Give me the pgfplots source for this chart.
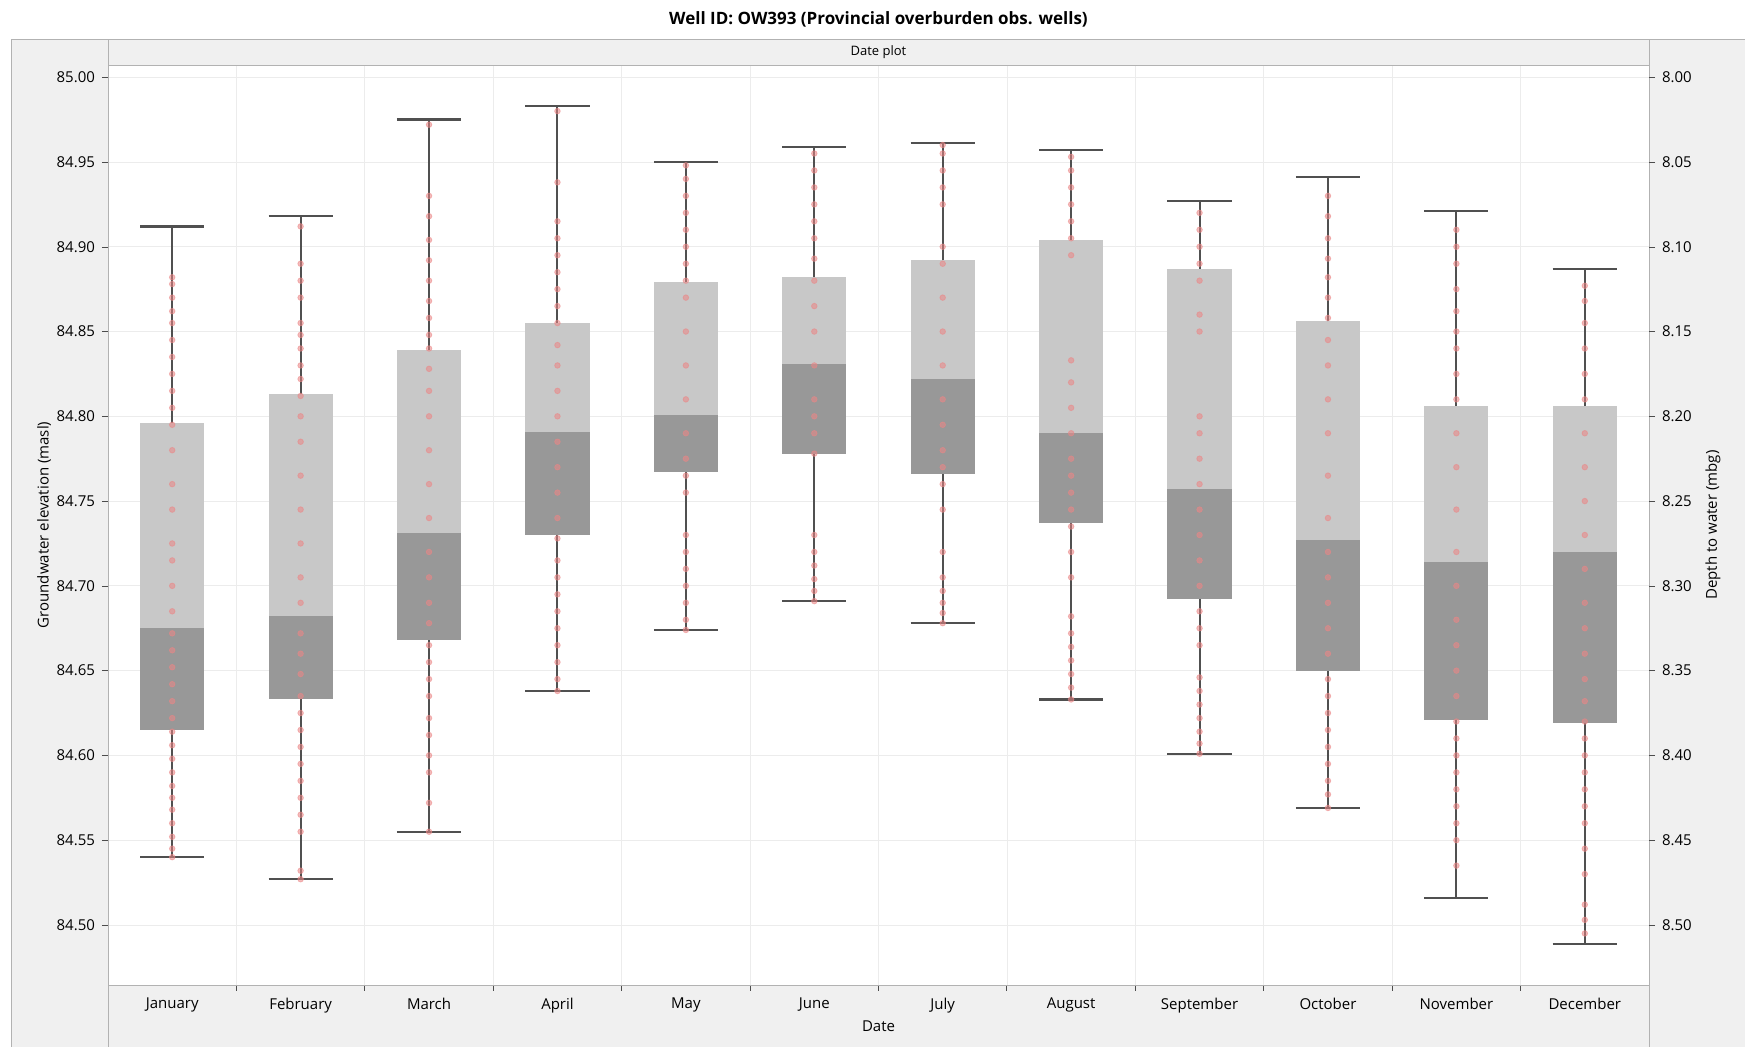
\documentclass[border=0pt]{standalone}
\usepackage{pgfplots}
\pgfplotsset{compat=1.18}
\usepackage{fontspec}
\setmainfont{Open Sans}
\definecolor{panel}{HTML}{F0F0F0}
\definecolor{boxlight}{HTML}{C8C8C8}
\definecolor{boxdark}{HTML}{989898}
\definecolor{whk}{HTML}{505050}
\definecolor{dot}{HTML}{EC8686}
\newcommand{\bx}[8]{%
 \addplot[fill=boxdark,draw=none] coordinates {(#1,#5)(#3,#5)(#3,#6)(#1,#6)} -- cycle;
 \addplot[fill=boxlight,draw=none] coordinates {(#1,#6)(#3,#6)(#3,#7)(#1,#7)} -- cycle;
 \addplot[whk,line width=1pt] coordinates {(#2,#4)(#2,#5)};
 \addplot[whk,line width=1pt] coordinates {(#2,#7)(#2,#8)};
 \addplot[whk,line width=1.1pt] coordinates {(#1,#4)(#3,#4)};
 \addplot[whk,line width=1.1pt] coordinates {(#1,#8)(#3,#8)};
}
\begin{document}
\begin{tikzpicture}[font=\fontsize{7.5}{9}\selectfont]
\fill[panel] (-48.5pt,-31pt) rectangle (818.5pt,473pt);
\draw[gray!60,line width=0.4pt] (-48.5pt,-31pt) rectangle (818.5pt,473pt);
\draw[gray!60,line width=0.4pt] (0,-31pt) -- (0,473pt);
\draw[gray!60,line width=0.4pt] (770.5pt,-31pt) -- (770.5pt,473pt);
\fill[white] (0,0) rectangle (770.5pt,460pt);
\node[font=\fontsize{6.5}{8}\selectfont] at (385.25pt,466.5pt) {Date plot};
\node[font=\bfseries\fontsize{8.5}{10}\selectfont] at (385.25pt,483pt) {Well ID: OW393 (Provincial overburden obs. wells)};
\begin{axis}[at={(0,0)},anchor=south west,scale only axis,width=770.5pt,height=460pt,
 xmin=0.5,xmax=12.5,ymin=84.4646,ymax=85.0072,
 axis line style={gray!60,line width=0.4pt},
 xtick={1,...,12},
 xticklabels={January,February,March,April,May,June,July,August,September,October,November,December},
 major x tick style={draw=none},
 minor xtick={1.5,2.5,...,11.5},
 minor x tick style={black!70,line width=0.5pt},
 minor tick length=3pt,
 xminorgrids,minor grid style={gray!15},
 ytick={84.5,84.55,...,85.01},
 yticklabel style={/pgf/number format/.cd,fixed,fixed zerofill,precision=2},
 ymajorgrids,major grid style={gray!15},
 major tick length=3pt,
 tick style={black!70},
 tick align=outside,
 ytick pos=left,
 xtick pos=bottom,
 /pgf/number format/assume math mode=true,
 xlabel={Date},ylabel={Groundwater elevation (masl)},
 xlabel style={yshift=3pt},
 ylabel style={yshift=-4pt},
 clip=false]
\bx{0.75}{1}{1.25}{84.540}{84.615}{84.675}{84.796}{84.912}
\bx{1.75}{2}{2.25}{84.527}{84.633}{84.682}{84.813}{84.918}
\bx{2.75}{3}{3.25}{84.555}{84.668}{84.731}{84.839}{84.975}
\bx{3.75}{4}{4.25}{84.638}{84.730}{84.791}{84.855}{84.983}
\bx{4.75}{5}{5.25}{84.674}{84.767}{84.801}{84.879}{84.950}
\bx{5.75}{6}{6.25}{84.691}{84.778}{84.831}{84.882}{84.959}
\bx{6.75}{7}{7.25}{84.678}{84.766}{84.822}{84.892}{84.961}
\bx{7.75}{8}{8.25}{84.633}{84.737}{84.790}{84.904}{84.957}
\bx{8.75}{9}{9.25}{84.601}{84.692}{84.757}{84.887}{84.927}
\bx{9.75}{10}{10.25}{84.569}{84.650}{84.727}{84.856}{84.941}
\bx{10.75}{11}{11.25}{84.516}{84.621}{84.714}{84.806}{84.921}
\bx{11.75}{12}{12.25}{84.489}{84.619}{84.720}{84.806}{84.887}
\addplot[only marks,mark=*,color=dot,mark size=1.4pt,opacity=0.55,mark options={draw=dot,fill=dot,solid}] table {
x y
1 84.540
1 84.545
1 84.552
1 84.560
1 84.568
1 84.575
1 84.582
1 84.590
1 84.598
1 84.606
1 84.614
1 84.622
1 84.632
1 84.642
1 84.652
1 84.662
1 84.672
1 84.685
1 84.700
1 84.715
1 84.725
1 84.745
1 84.760
1 84.780
1 84.795
1 84.805
1 84.815
1 84.825
1 84.835
1 84.845
1 84.855
1 84.862
1 84.870
1 84.878
1 84.882
2 84.527
2 84.532
2 84.555
2 84.565
2 84.575
2 84.585
2 84.595
2 84.605
2 84.615
2 84.625
2 84.635
2 84.648
2 84.660
2 84.672
2 84.690
2 84.705
2 84.725
2 84.745
2 84.765
2 84.785
2 84.800
2 84.812
2 84.822
2 84.830
2 84.840
2 84.848
2 84.855
2 84.870
2 84.880
2 84.890
2 84.912
3 84.555
3 84.572
3 84.590
3 84.600
3 84.612
3 84.622
3 84.635
3 84.645
3 84.655
3 84.665
3 84.678
3 84.690
3 84.705
3 84.720
3 84.740
3 84.760
3 84.780
3 84.800
3 84.815
3 84.828
3 84.840
3 84.848
3 84.858
3 84.868
3 84.880
3 84.892
3 84.904
3 84.918
3 84.930
3 84.972
4 84.638
4 84.645
4 84.655
4 84.665
4 84.675
4 84.685
4 84.695
4 84.705
4 84.715
4 84.728
4 84.740
4 84.755
4 84.770
4 84.785
4 84.800
4 84.815
4 84.830
4 84.842
4 84.855
4 84.865
4 84.875
4 84.885
4 84.895
4 84.905
4 84.915
4 84.938
4 84.980
5 84.674
5 84.680
5 84.690
5 84.700
5 84.710
5 84.720
5 84.730
5 84.755
5 84.765
5 84.775
5 84.790
5 84.810
5 84.830
5 84.850
5 84.870
5 84.880
5 84.890
5 84.900
5 84.910
5 84.920
5 84.930
5 84.940
5 84.948
6 84.691
6 84.697
6 84.704
6 84.712
6 84.720
6 84.730
6 84.778
6 84.790
6 84.800
6 84.810
6 84.830
6 84.850
6 84.865
6 84.880
6 84.893
6 84.905
6 84.915
6 84.925
6 84.935
6 84.945
6 84.955
7 84.678
7 84.684
7 84.690
7 84.697
7 84.705
7 84.720
7 84.745
7 84.760
7 84.770
7 84.780
7 84.795
7 84.810
7 84.830
7 84.850
7 84.870
7 84.890
7 84.900
7 84.925
7 84.935
7 84.945
7 84.955
7 84.960
8 84.633
8 84.640
8 84.648
8 84.656
8 84.664
8 84.672
8 84.682
8 84.705
8 84.720
8 84.735
8 84.745
8 84.755
8 84.765
8 84.775
8 84.790
8 84.805
8 84.820
8 84.833
8 84.895
8 84.905
8 84.915
8 84.925
8 84.935
8 84.945
8 84.953
9 84.601
9 84.607
9 84.614
9 84.622
9 84.630
9 84.638
9 84.646
9 84.665
9 84.675
9 84.685
9 84.700
9 84.715
9 84.730
9 84.745
9 84.760
9 84.775
9 84.790
9 84.800
9 84.850
9 84.860
9 84.880
9 84.890
9 84.900
9 84.910
9 84.920
10 84.569
10 84.577
10 84.585
10 84.595
10 84.605
10 84.615
10 84.625
10 84.635
10 84.645
10 84.660
10 84.675
10 84.690
10 84.705
10 84.720
10 84.740
10 84.765
10 84.790
10 84.810
10 84.830
10 84.845
10 84.858
10 84.870
10 84.882
10 84.893
10 84.905
10 84.918
10 84.930
11 84.535
11 84.550
11 84.560
11 84.570
11 84.580
11 84.590
11 84.600
11 84.610
11 84.620
11 84.635
11 84.650
11 84.665
11 84.680
11 84.700
11 84.720
11 84.745
11 84.770
11 84.790
11 84.810
11 84.825
11 84.840
11 84.850
11 84.862
11 84.875
11 84.890
11 84.900
11 84.910
12 84.495
12 84.503
12 84.512
12 84.530
12 84.545
12 84.560
12 84.570
12 84.580
12 84.590
12 84.600
12 84.610
12 84.620
12 84.632
12 84.645
12 84.660
12 84.675
12 84.690
12 84.710
12 84.730
12 84.750
12 84.770
12 84.790
12 84.810
12 84.825
12 84.840
12 84.855
12 84.868
12 84.877
};
\end{axis}
\begin{axis}[at={(0,0)},anchor=south west,scale only axis,width=770.5pt,height=460pt,
 xmin=0.5,xmax=12.5,ymin=7.9928,ymax=8.5354,y dir=reverse,
 axis line style={draw=none},
 xtick=\empty,
 ytick={8.00,8.05,...,8.51},
 yticklabel style={/pgf/number format/.cd,fixed,fixed zerofill,precision=2},
 /pgf/number format/assume math mode=true,
 ytick pos=right,tick align=outside,major tick length=3pt,tick style={black!70},
 ylabel={Depth to water (mbg)},ylabel style={yshift=4pt},
 yticklabel pos=right,ylabel near ticks]
\end{axis}
\pgfresetboundingbox
\useasboundingbox (-54pt,-31pt) rectangle (818.5pt,492.5pt);
\end{tikzpicture}
\end{document}
